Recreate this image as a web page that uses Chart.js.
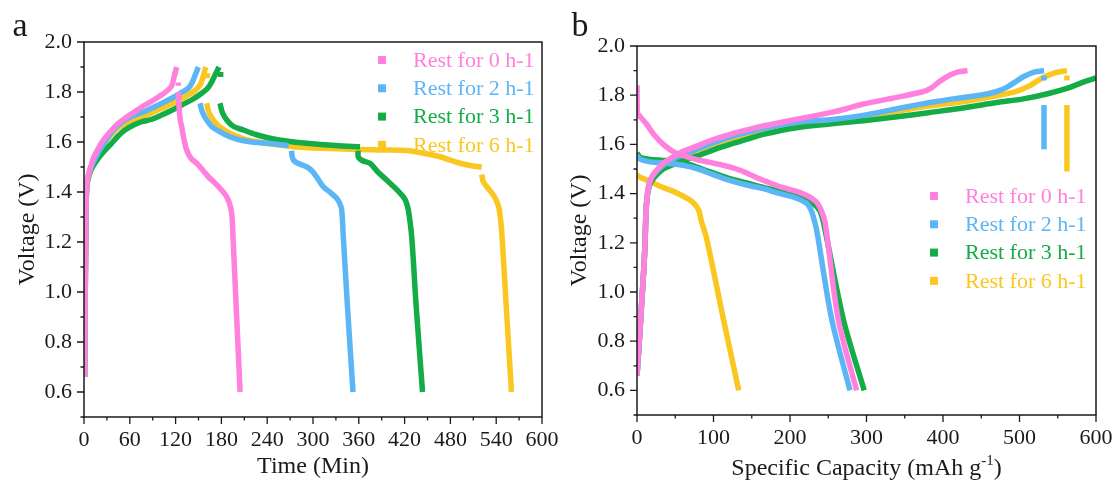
<!DOCTYPE html>
<html>
<head>
<meta charset="utf-8">
<script src="https://cdn.jsdelivr.net/npm/chart.js@4.4.1/dist/chart.umd.min.js"></script>
<style>
  body { margin: 0; background: #fff; width: 1117px; height: 485px; overflow: hidden; position: relative; }
  .panel { position: absolute; top: 0; width: 560px; height: 485px; }
  #panelA { left: 0; }
  #panelB { left: 557px; }
</style>
</head>
<body>
<div class="panel" id="panelA"><canvas id="chartA"></canvas></div>
<div class="panel" id="panelB"><canvas id="chartB"></canvas></div>
<script>
// legend / series
const seriesLabels = ['Rest for 0 h-1', 'Rest for 2 h-1', 'Rest for 3 h-1', 'Rest for 6 h-1'];
const seriesColors = ['#FF80DD', '#5CB6F6', '#13AC46', '#FAC720'];

// tick labels
const voltTicks = [0.6, 0.8, 1.0, 1.2, 1.4, 1.6, 1.8, 2.0];
const timeTicks = [0, 60, 120, 180, 240, 300, 360, 420, 480, 540, 600];
const capTicks = [0, 100, 200, 300, 400, 500, 600];

// panel a : voltage vs time (min), null = break between charge / rest / discharge
const timeRest0 = [0.8, 1.5, 2.2, 3, 4.5, 8, 12.2, 18, 23.2, 30, 36.3, 45, 53.7, 65, 75.6, 87, 97.4, 107, 114.9, 118, 121.4, null,
  123.6, 123.6, null,
  123.6, 124.5, 126, 128, 131, 134.5, 140, 147.6, 155, 162.9, 175, 185, 190, 193.5, 195.5, 200, 204.5];
const voltRest0 = [0.66, 0.95, 1.2, 1.38, 1.45, 1.49, 1.535, 1.57, 1.598, 1.625, 1.648, 1.675, 1.695, 1.718, 1.74, 1.76, 1.78, 1.80, 1.825, 1.86, 1.90, null,
  1.825, 1.838, null,
  1.80, 1.74, 1.69, 1.661, 1.61, 1.568, 1.535, 1.515, 1.49, 1.461, 1.425, 1.39, 1.36, 1.315, 1.2, 0.9, 0.6];

const timeRest2 = [0.8, 1.5, 2.2, 3, 4.5, 8, 12.2, 20, 27.5, 35, 44.9, 55, 66.8, 78, 88.7, 100, 114.9, 126, 136.7, 142, 146, 149.8, null,
  152, 155, 160.7, 168, 178.2, 190, 204.4, 220, 239.4, 255, 268, null,
  272, 272.5, 274.3, 280, 291.7, 300, 313.5, 322, 331, 335, 337.6, 339.7, 345, 352.4];
const voltRest2 = [0.66, 0.95, 1.2, 1.38, 1.45, 1.49, 1.52, 1.565, 1.60, 1.635, 1.668, 1.69, 1.708, 1.72, 1.735, 1.752, 1.775, 1.795, 1.815, 1.84, 1.87, 1.90, null,
  1.755, 1.72, 1.688, 1.66, 1.641, 1.622, 1.608, 1.60, 1.595, 1.59, 1.585, null,
  1.565, 1.545, 1.528, 1.515, 1.501, 1.48, 1.421, 1.40, 1.375, 1.355, 1.328, 1.221, 0.95, 0.6];

const timeRest3 = [0.8, 1.5, 2.2, 3, 4.5, 8, 12, 18.7, 27, 36.3, 45, 53.7, 65, 75.6, 88, 101.8, 115, 128, 142, 154.2, 162, 167.3, 172, 176.9, null,
  179, 179, null,
  178.2, 181, 187, 196, 208.7, 225, 243.7, 265, 291.7, 330, 361.6, null,
  359, 359.4, 365, 374.7, 385, 396.5, 408, 418.3, 422, 424.9, 429.3, 435, 443.5];
const voltRest3 = [0.66, 0.95, 1.2, 1.38, 1.44, 1.48, 1.505, 1.535, 1.565, 1.595, 1.625, 1.648, 1.668, 1.681, 1.69, 1.708, 1.727, 1.748, 1.77, 1.795, 1.815, 1.84, 1.87, 1.90, null,
  1.86, 1.88, null,
  1.755, 1.72, 1.688, 1.662, 1.648, 1.63, 1.615, 1.604, 1.595, 1.586, 1.581, null,
  1.565, 1.54, 1.525, 1.515, 1.48, 1.448, 1.415, 1.381, 1.36, 1.328, 1.221, 0.95, 0.6];

const timeRest6 = [0.8, 1.5, 2.2, 3, 4.5, 8, 13.5, 22, 31.8, 42, 53.7, 65, 75.6, 90, 106.1, 120, 132.3, 143, 152, 156, 159.4, null,
  161.5, 161.5, null,
  160.7, 163.5, 169.4, 178, 191.3, 207, 226.3, 250, 283, 330, 392, 422.7, 445, 466.4, 492.6, 508, 521, null,
  521, 523.1, 528, 536.2, 541, 544, 547, 553, 560];
const voltRest6 = [0.66, 0.95, 1.2, 1.38, 1.45, 1.49, 1.535, 1.575, 1.615, 1.65, 1.675, 1.69, 1.70, 1.718, 1.741, 1.76, 1.781, 1.80, 1.828, 1.86, 1.90, null,
  1.855, 1.875, null,
  1.755, 1.72, 1.688, 1.66, 1.635, 1.615, 1.601, 1.59, 1.579, 1.573, 1.568, 1.566, 1.555, 1.541, 1.515, 1.505, 1.499, null,
  1.47, 1.441, 1.42, 1.388, 1.36, 1.33, 1.25, 0.95, 0.6];

// panel b : voltage vs specific capacity (mAh/g)
const capRest0 = [0, 3, 6, 9, 10.5, 11.5, 13, 16, 20, 27, 35, 45, 56.2, 78, 100, 121.6, 145, 165, 208.8, 252.3, 274, 295.8, 339.5, 374.3, 385, 395, 409.2, 420, 432, null,
  0, 0.5, 5, 12.6, 22, 34.4, 45, 56.2, 78, 95, 112.9, 130, 143.4, 160, 173.9, 190, 208.8, 220, 228.4, 236, 241, 246, 263, 287];
const capVolt0 = [0.66, 0.8, 0.95, 1.1, 1.2, 1.3, 1.38, 1.44, 1.47, 1.50, 1.525, 1.545, 1.566, 1.593, 1.62, 1.641, 1.66, 1.675, 1.702, 1.729, 1.745, 1.764, 1.791, 1.815, 1.83, 1.855, 1.882, 1.895, 1.90, null,
  1.84, 1.73, 1.71, 1.682, 1.64, 1.60, 1.575, 1.559, 1.538, 1.527, 1.515, 1.50, 1.484, 1.46, 1.443, 1.425, 1.409, 1.395, 1.381, 1.36, 1.33, 1.28, 0.89, 0.6];

const capRest2 = [0, 3, 6, 9, 10.5, 11.5, 13, 16, 20, 27, 34.4, 45, 56.2, 78, 100, 121.6, 145, 165, 208.8, 252.3, 295.8, 340, 383, 420, 448.4, 470, 483.3, 495, 505, 520, 532, null,
  532, 532, null,
  532, 532, null,
  0, 4, 15, 34.4, 60, 80, 99.7, 120, 143.4, 165, 186.9, 205, 221.8, 228, 231, 235, 254.5, 278.4];
const capVolt2 = [0.66, 0.8, 0.95, 1.1, 1.2, 1.3, 1.38, 1.44, 1.47, 1.495, 1.515, 1.535, 1.555, 1.58, 1.607, 1.63, 1.65, 1.665, 1.69, 1.70, 1.718, 1.745, 1.77, 1.788, 1.80, 1.815, 1.832, 1.855, 1.875, 1.895, 1.90, null,
  1.86, 1.88, null,
  1.58, 1.76, null,
  1.555, 1.54, 1.53, 1.525, 1.515, 1.50, 1.477, 1.455, 1.435, 1.42, 1.40, 1.385, 1.36, 1.33, 1.30, 1.25, 0.889, 0.6];

const capRest3 = [0, 3, 6, 9, 10.5, 11.5, 13, 16, 20, 27, 34.4, 45, 56.2, 78, 100, 121.6, 145, 165, 208.8, 274, 295.8, 340, 383, 430, 470, 505, 535.5, 566, 585, 600, null,
  0, 3.9, 15, 34.4, 50, 69.3, 85, 99.7, 120, 143.4, 165, 186.9, 205, 221.8, 232, 239, 244, 269.7, 297];
const capVolt3 = [0.66, 0.8, 0.95, 1.1, 1.2, 1.3, 1.38, 1.43, 1.455, 1.48, 1.50, 1.515, 1.53, 1.552, 1.578, 1.60, 1.622, 1.641, 1.668, 1.69, 1.696, 1.712, 1.73, 1.75, 1.77, 1.785, 1.805, 1.832, 1.855, 1.87, null,
  1.565, 1.548, 1.54, 1.535, 1.53, 1.518, 1.50, 1.484, 1.462, 1.443, 1.425, 1.409, 1.395, 1.374, 1.355, 1.33, 1.28, 0.889, 0.6];

const capRest6 = [0, 3, 6, 9, 10.5, 11.5, 13, 16, 20, 25, 34.4, 45, 56.2, 78, 100, 121.6, 145, 165, 208.8, 252.3, 274, 295.8, 340, 383, 430, 470, 495, 513.7, 530, 545, 562, null,
  562, 562, null,
  562, 562, null,
  0, 5, 17, 30, 47.5, 60, 69.3, 76, 81, 84, 91, 113, 133];
const capVolt6 = [0.66, 0.8, 0.95, 1.1, 1.2, 1.3, 1.38, 1.44, 1.47, 1.49, 1.511, 1.53, 1.545, 1.572, 1.598, 1.62, 1.643, 1.661, 1.682, 1.695, 1.702, 1.71, 1.735, 1.757, 1.775, 1.798, 1.815, 1.839, 1.87, 1.89, 1.90, null,
  1.86, 1.88, null,
  1.49, 1.76, null,
  1.475, 1.465, 1.45, 1.43, 1.409, 1.39, 1.374, 1.355, 1.33, 1.29, 1.217, 0.889, 0.6];

const SERIF = '"Liberation Serif", "Times New Roman", serif';
const INK = '#1a1a1a';

// split x/y arrays at nulls into separate line pieces
function segments(xs, ys) {
    var out = [], cur = [];
    for (var i = 0; i < xs.length; i++) {
        if (xs[i] === null || ys[i] === null) {
            if (cur.length) out.push(cur);
            cur = [];
        } else {
            cur.push({ x: xs[i], y: ys[i] });
        }
    }
    if (cur.length) out.push(cur);
    return out;
}

function buildDatasets(pairs) {
    var sets = [];
    pairs.forEach(function (p, s) {
        segments(p[0], p[1]).forEach(function (pts) {
            sets.push({
                data: pts,
                borderColor: seriesColors[s],
                backgroundColor: seriesColors[s],
                borderWidth: 5.5,
                pointRadius: 0,
                tension: 0.3,
                fill: false
            });
        });
    });
    return sets;
}

function labelFrom(list, digits) {
    return function (value) {
        var hit = list.find(function (t) { return Math.abs(t - value) < 1e-6; });
        return hit === undefined ? '' : hit.toFixed(digits);
    };
}

// frame, outward major/minor ticks, titles, panel letter, legend
var decor = {
    id: 'decor',
    afterDraw: function (chart, args, o) {
        var ctx = chart.ctx, a = chart.chartArea;
        ctx.save();
        ctx.strokeStyle = INK;
        ctx.lineWidth = 1.5;
        ctx.strokeRect(a.left, a.top, a.right - a.left, a.bottom - a.top);

        ctx.lineWidth = 1.3;
        var xs = chart.scales.x, ys = chart.scales.y;
        ctx.beginPath();
        xs.ticks.forEach(function (t) {
            var px = xs.getPixelForValue(t.value);
            var len = t.label ? 7 : 3.5;
            ctx.moveTo(px, a.bottom);
            ctx.lineTo(px, a.bottom + len);
        });
        ys.ticks.forEach(function (t) {
            var py = ys.getPixelForValue(t.value);
            var len = t.label ? 7 : 3.5;
            ctx.moveTo(a.left, py);
            ctx.lineTo(a.left - len, py);
        });
        ctx.stroke();

        ctx.fillStyle = INK;
        ctx.textAlign = 'center';
        ctx.textBaseline = 'middle';

        // x title, with optional superscript part
        ctx.font = '24px ' + SERIF;
        var cx = (a.left + a.right) / 2;
        if (o.xSup) {
            var w1 = ctx.measureText(o.xTitle).width;
            var w3 = ctx.measureText(o.xTail).width;
            ctx.font = '15px ' + SERIF;
            var w2 = ctx.measureText(o.xSup).width;
            var x0 = cx - (w1 + w2 + w3) / 2;
            ctx.textAlign = 'left';
            ctx.font = '24px ' + SERIF;
            ctx.fillText(o.xTitle, x0, o.xTitleY);
            ctx.font = '15px ' + SERIF;
            ctx.fillText(o.xSup, x0 + w1, o.xTitleY - 8);
            ctx.font = '24px ' + SERIF;
            ctx.fillText(o.xTail, x0 + w1 + w2, o.xTitleY);
            ctx.textAlign = 'center';
        } else {
            ctx.fillText(o.xTitle, cx, o.xTitleY);
        }

        // y title
        ctx.save();
        ctx.translate(o.yTitleX, (a.top + a.bottom) / 2);
        ctx.rotate(-Math.PI / 2);
        ctx.fillText('Voltage (V)', 0, 0);
        ctx.restore();

        // panel letter
        ctx.font = '34px ' + SERIF;
        ctx.textBaseline = 'alphabetic';
        ctx.fillText(o.letter, o.letterX, 36);

        // legend
        ctx.font = '22px ' + SERIF;
        ctx.textAlign = 'left';
        ctx.textBaseline = 'middle';
        seriesLabels.forEach(function (lab, i) {
            var y = a.top + o.legTop + i * 28.3;
            ctx.fillStyle = seriesColors[i];
            ctx.fillRect(a.right - o.legSquare - 4, y - 4, 8, 8);
            ctx.fillText(lab, a.right - o.legText, y + 1);
        });
        ctx.restore();
    }
};

function makeChart(id, pairs, xTicks, xStep, pad, axisW, axisH, deco) {
    return new Chart(document.getElementById(id).getContext('2d'), {
        type: 'line',
        data: { datasets: buildDatasets(pairs) },
        options: {
            responsive: true,
            maintainAspectRatio: false,
            animation: false,
            events: [],
            layout: { padding: pad },
            plugins: { legend: { display: false }, tooltip: { enabled: false }, decor: deco },
            scales: {
                x: {
                    type: 'linear', min: 0, max: 600,
                    afterFit: function (s) { s.height = axisH; s.paddingLeft = 0; s.paddingRight = 0; },
                    grid: { display: false, drawTicks: false },
                    border: { display: false },
                    ticks: {
                        stepSize: xStep, autoSkip: false, maxRotation: 0, padding: 10,
                        color: INK, font: { family: SERIF, size: 22 },
                        callback: labelFrom(xTicks, 0)
                    }
                },
                y: {
                    type: 'linear', min: 0.5, max: 2.0,
                    afterFit: function (s) { s.width = axisW; s.paddingTop = 0; s.paddingBottom = 0; },
                    grid: { display: false, drawTicks: false },
                    border: { display: false },
                    ticks: {
                        stepSize: 0.1, autoSkip: false, padding: 12,
                        color: INK, font: { family: SERIF, size: 22 },
                        callback: labelFrom(voltTicks, 1)
                    }
                }
            }
        },
        plugins: [decor]
    });
}

makeChart('chartA',
    [[timeRest0, voltRest0], [timeRest2, voltRest2], [timeRest3, voltRest3], [timeRest6, voltRest6]],
    timeTicks, 30,
    { top: 42, right: 18, left: 0, bottom: 0 }, 84, 68,
    { xTitle: 'Time (Min)', xTitleY: 467, yTitleX: 28, letter: 'a', letterX: 20,
      legTop: 18, legSquare: 160, legText: 129 });

makeChart('chartB',
    [[capRest0, capVolt0], [capRest2, capVolt2], [capRest3, capVolt3], [capRest6, capVolt6]],
    capTicks, 50,
    { top: 46, right: 21, left: 0, bottom: 0 }, 80, 70,
    { xTitle: 'Specific Capacity (mAh g', xSup: '-1', xTail: ')', xTitleY: 469, yTitleX: 23,
      letter: 'b', letterX: 23, legTop: 150, legSquare: 162, legText: 131 });
</script>
</body>
</html>
